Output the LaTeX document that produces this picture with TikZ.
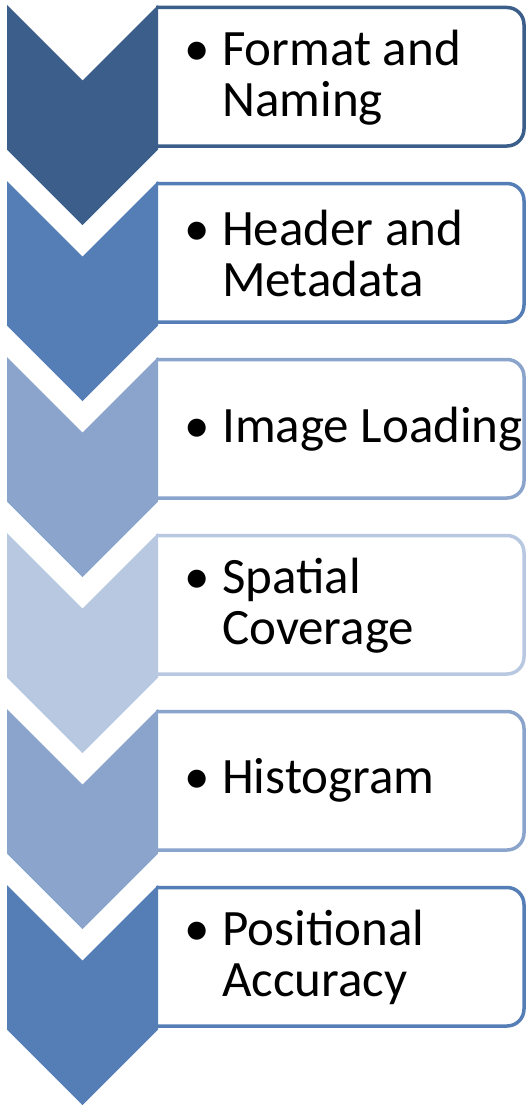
\documentclass[tikz,border=0pt]{standalone}
\usepackage{fontspec}
\setmainfont{Carlito}
\definecolor{shadeA}{HTML}{3B5E8B}
\definecolor{shadeB}{HTML}{557EB6}
\definecolor{shadeC}{HTML}{8AA4CB}
\definecolor{shadeD}{HTML}{B9C8E1}
\begin{document}
\begin{tikzpicture}[x=1pt,y=-1pt,
	chev/.style={fill=#1},
	card/.style={draw=#1,line width=3.5pt,fill=white,rounded corners=17pt},
	item/.style={anchor=west,align=left,inner sep=0pt,font=\fontsize{51}{51}\selectfont}]
	\useasboundingbox (0,0) rectangle (527,1105);
	% cards behind the chevrons
	\draw [card=shadeA] (156,7.5) -- (524,7.5) -- (524,146) -- (156,146);
	\draw [card=shadeB] (156,183.5) -- (524,183.5) -- (524,322) -- (156,322);
	\draw [card=shadeC] (156,359.5) -- (524,359.5) -- (524,498) -- (156,498);
	\draw [card=shadeD] (156,535.5) -- (524,535.5) -- (524,674) -- (156,674);
	\draw [card=shadeC] (156,711.5) -- (524,711.5) -- (524,850) -- (156,850);
	\draw [card=shadeB] (156,887.5) -- (524,887.5) -- (524,1026) -- (156,1026);
	% chevrons
	\fill [chev=shadeA] (7,5) -- (82.5,80.5) -- (158,5) -- (158,149.5) -- (82.5,225) -- (7,149.5) -- cycle;
	\fill [chev=shadeB] (7,181) -- (82.5,256.5) -- (158,181) -- (158,325.5) -- (82.5,401) -- (7,325.5) -- cycle;
	\fill [chev=shadeC] (7,357) -- (82.5,432.5) -- (158,357) -- (158,501.5) -- (82.5,577) -- (7,501.5) -- cycle;
	\fill [chev=shadeD] (7,533) -- (82.5,608.5) -- (158,533) -- (158,677.5) -- (82.5,753) -- (7,677.5) -- cycle;
	\fill [chev=shadeC] (7,709) -- (82.5,784.5) -- (158,709) -- (158,853.5) -- (82.5,929) -- (7,853.5) -- cycle;
	\fill [chev=shadeB] (7,885) -- (82.5,960.5) -- (158,885) -- (158,1029.5) -- (82.5,1105) -- (7,1029.5) -- cycle;
	% labels
	\path node (format) [item] at (222,77.5) {\llap{\textbullet\hspace{12pt}}Format and\\Naming}
		  node (header) [item] at (222,253.5) {\llap{\textbullet\hspace{12pt}}Header and\\Metadata}
		  node (loading) [item] at (222,428.75) {\llap{\textbullet\hspace{12pt}}Image Loading}
		  node (coverage) [item] at (222,605.5) {\llap{\textbullet\hspace{12pt}}Spatial\\Coverage}
		  node (histogram) [item] at (222,780.75) {\llap{\textbullet\hspace{12pt}}Histogram}
		  node (accuracy) [item] at (222,957.5) {\llap{\textbullet\hspace{12pt}}Positional\\Accuracy};
\end{tikzpicture}
\end{document}
